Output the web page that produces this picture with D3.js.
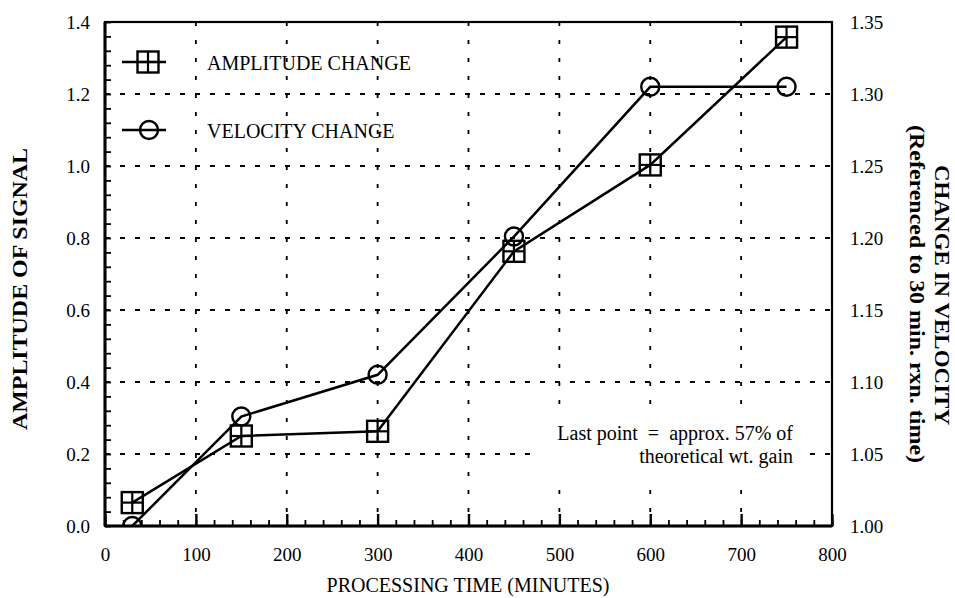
<!DOCTYPE html>
<html>
<head>
<meta charset="utf-8">
<script src="https://cdn.jsdelivr.net/npm/d3@7"></script>
<style>
  body { margin: 0; background: #fff; }
  svg text { font-family: 'Liberation Serif', 'Tinos', 'Times New Roman', 'DejaVu Serif', serif; fill: #000; }
  .axis path.domain { display: none; }
  .axis line { stroke: #000; }
</style>
</head>
<body>
<svg id="svg" width="955" height="598"></svg>
<script>
// data
const times = [30, 150, 300, 450, 600, 750];
const amplitude = [0.065, 0.25, 0.263, 0.763, 1.003, 1.358];
const velocity = [1.000, 1.076, 1.105, 1.201, 1.305, 1.305];

const xTicks = [0, 100, 200, 300, 400, 500, 600, 700, 800];
const yLeftTicks = [0, 0.2, 0.4, 0.6, 0.8, 1.0, 1.2, 1.4];
const yRightTicks = [1.00, 1.05, 1.10, 1.15, 1.20, 1.25, 1.30, 1.35];

const seriesNames = ['AMPLITUDE CHANGE', 'VELOCITY CHANGE'];

const svg = d3.select('#svg');

const plotLeft = 105, plotRight = 832, plotTop = 22, plotBottom = 526;

const x = d3.scaleLinear().domain([0, 800]).range([plotLeft, plotRight]);
const yL = d3.scaleLinear().domain([0, 1.4]).range([plotBottom, plotTop]);
const yR = d3.scaleLinear().domain([1.0, 1.35]).range([plotBottom, plotTop]);

svg.append('defs').append('clipPath').attr('id', 'plotClip')
  .append('rect')
  .attr('x', plotLeft).attr('y', plotTop)
  .attr('width', plotRight - plotLeft).attr('height', plotBottom - plotTop);

// grid
const grid = svg.append('g');
grid.selectAll('.vgrid')
  .data(xTicks.slice(1, -1))
  .join('line')
  .attr('x1', d => x(d)).attr('x2', d => x(d))
  .attr('y1', plotTop).attr('y2', plotBottom)
  .attr('stroke', '#000')
  .attr('stroke-width', 1.8)
  .attr('stroke-dasharray', '4,14');

grid.selectAll('.hgrid')
  .data(yLeftTicks.slice(1, -1))
  .join('line')
  .attr('x1', plotLeft).attr('x2', plotRight)
  .attr('y1', d => yL(d)).attr('y2', d => yL(d))
  .attr('stroke', '#000')
  .attr('stroke-width', 1.8)
  .attr('stroke-dasharray', '5,10');

// axes
const xAxis = d3.axisBottom(x).tickValues(xTicks).tickSize(-12).tickPadding(22);
const xMinor = d3.axisBottom(x).tickValues(d3.range(0, 801, 20)).tickSize(-6).tickFormat('');
const yAxis = d3.axisLeft(yL).tickValues(yLeftTicks).tickSize(0).tickPadding(15).tickFormat(d3.format('.1f'));
const yMinor = d3.axisLeft(yL).tickValues(d3.range(0, 1.401, 0.04)).tickSize(-6).tickFormat('');
const yRAxis = d3.axisRight(yR).tickValues(yRightTicks).tickSize(0).tickPadding(18).tickFormat(d3.format('.2f'));

svg.append('g').attr('class', 'axis').attr('transform', `translate(0,${plotBottom})`).call(xMinor)
  .selectAll('line').attr('stroke-width', 1.8);
const xG = svg.append('g').attr('class', 'axis').attr('transform', `translate(0,${plotBottom})`).call(xAxis);
xG.selectAll('line').attr('stroke-width', 2.4);
xG.selectAll('text').style('font-size', '19px');

svg.append('g').attr('class', 'axis').attr('transform', `translate(${plotLeft},0)`).call(yMinor)
  .selectAll('line').attr('stroke-width', 1.8);
svg.append('g').attr('class', 'axis').attr('transform', `translate(${plotLeft},0)`).call(yAxis)
  .selectAll('text').style('font-size', '19px');
svg.append('g').attr('class', 'axis').attr('transform', `translate(${plotRight},0)`).call(yRAxis)
  .selectAll('text').style('font-size', '19px');

// annotation background hides the grid behind the note
svg.append('rect')
  .attr('x', 538).attr('y', 408)
  .attr('width', 262).attr('height', 68)
  .attr('fill', '#fff');

// markers
function squareMark(g, cx, cy) {
  const s = 10.5;
  g.append('rect').attr('x', cx - s).attr('y', cy - s).attr('width', 2 * s).attr('height', 2 * s)
    .attr('fill', 'none').attr('stroke', '#000').attr('stroke-width', 2.4);
  g.append('line').attr('x1', cx - s).attr('x2', cx + s).attr('y1', cy).attr('y2', cy)
    .attr('stroke', '#000').attr('stroke-width', 2.2);
  g.append('line').attr('x1', cx).attr('x2', cx).attr('y1', cy - s).attr('y2', cy + s)
    .attr('stroke', '#000').attr('stroke-width', 2.2);
}
function circleMark(g, cx, cy) {
  g.append('circle').attr('cx', cx).attr('cy', cy).attr('r', 9)
    .attr('fill', 'none').attr('stroke', '#000').attr('stroke-width', 2.4);
}

const ampData = times.map((t, i) => [t, amplitude[i]]);
const velData = times.map((t, i) => [t, velocity[i]]);

const plot = svg.append('g').attr('clip-path', 'url(#plotClip)');
plot.append('path')
  .datum(ampData)
  .attr('d', d3.line().x(d => x(d[0])).y(d => yL(d[1])))
  .attr('fill', 'none').attr('stroke', '#000').attr('stroke-width', 2.5);
plot.append('path')
  .datum(velData)
  .attr('d', d3.line().x(d => x(d[0])).y(d => yR(d[1])))
  .attr('fill', 'none').attr('stroke', '#000').attr('stroke-width', 2.5);

ampData.forEach(d => squareMark(plot, x(d[0]), yL(d[1])));
velData.forEach(d => circleMark(plot, x(d[0]), yR(d[1])));

// frame
svg.append('rect')
  .attr('x', plotLeft).attr('y', plotTop)
  .attr('width', plotRight - plotLeft).attr('height', plotBottom - plotTop)
  .attr('fill', 'none').attr('stroke', '#000').attr('stroke-width', 2.2);
svg.append('line').attr('x1', plotLeft).attr('x2', plotLeft).attr('y1', plotTop).attr('y2', plotBottom)
  .attr('stroke', '#000').attr('stroke-width', 3);
svg.append('line').attr('x1', plotLeft).attr('x2', plotRight).attr('y1', plotBottom).attr('y2', plotBottom)
  .attr('stroke', '#000').attr('stroke-width', 3);

// legend
const legend = svg.append('g');
[62, 130].forEach((ly, i) => {
  legend.append('line').attr('x1', 122).attr('x2', 166).attr('y1', ly).attr('y2', ly)
    .attr('stroke', '#000').attr('stroke-width', 2.5);
  if (i === 0) squareMark(legend, 148, ly); else circleMark(legend, 149, ly);
  legend.append('text')
    .attr('x', 207).attr('y', ly + 8)
    .style('font-size', '20px')
    .text(seriesNames[i]);
});

// annotation
const note = svg.append('g').style('font-size', '20px').attr('text-anchor', 'end');
note.append('text').attr('x', 793).attr('y', 440).attr('xml:space', 'preserve').text('Last point  =  approx. 57% of');
note.append('text').attr('x', 793).attr('y', 463).text('theoretical wt. gain');

// axis titles
svg.append('text')
  .attr('transform', 'translate(468,592)')
  .attr('text-anchor', 'middle')
  .style('font-size', '20px')
  .text('PROCESSING TIME (MINUTES)');

svg.append('text')
  .attr('transform', 'translate(27,289) rotate(-90)')
  .attr('text-anchor', 'middle')
  .attr('textLength', 282)
  .attr('lengthAdjust', 'spacingAndGlyphs')
  .style('font-size', '20px')
  .style('font-weight', 'bold')
  .text('AMPLITUDE OF SIGNAL');

svg.append('text')
  .attr('transform', 'translate(935,295) rotate(90)')
  .attr('text-anchor', 'middle')
  .attr('textLength', 260)
  .attr('lengthAdjust', 'spacingAndGlyphs')
  .style('font-size', '20px')
  .style('font-weight', 'bold')
  .text('CHANGE IN VELOCITY');

svg.append('text')
  .attr('transform', 'translate(910,294) rotate(90)')
  .attr('text-anchor', 'middle')
  .attr('textLength', 338)
  .attr('lengthAdjust', 'spacingAndGlyphs')
  .style('font-size', '20px')
  .style('font-weight', 'bold')
  .text('(Referenced to 30 min. rxn. time)');
</script>
</body>
</html>
